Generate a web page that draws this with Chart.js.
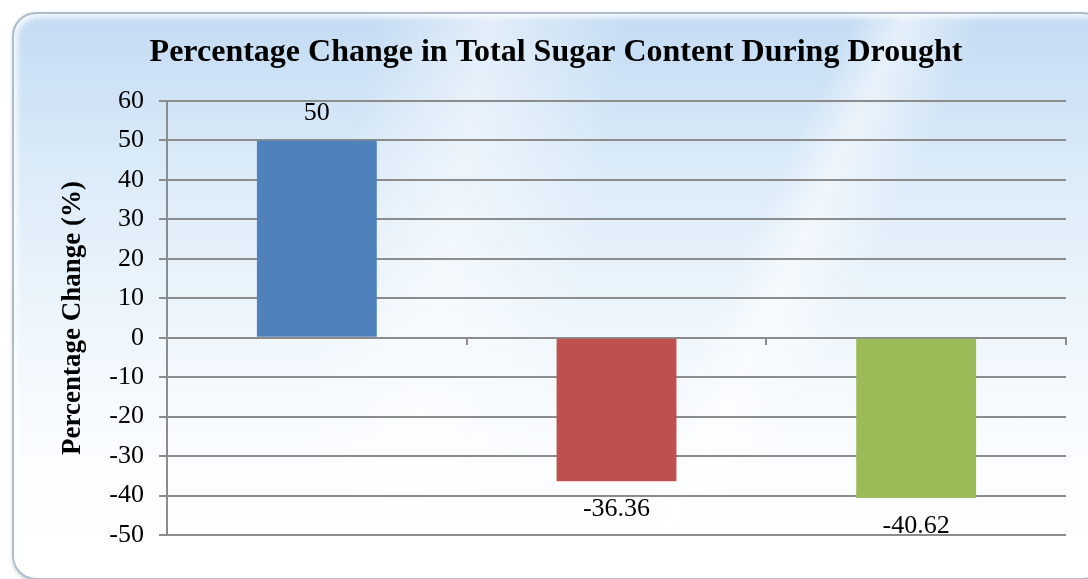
<!DOCTYPE html>
<html>
<head>
<meta charset="utf-8">
<script src="https://cdn.jsdelivr.net/npm/chart.js@4.4.0/dist/chart.umd.min.js"></script>
<style>
  html, body { margin: 0; padding: 0; background: #ffffff; }
  #wrap { position: relative; width: 1088px; height: 579px; overflow: hidden; }
  #panel {
    position: absolute; left: 12px; top: 12px; width: 1090px; height: 564px;
    border-radius: 24px;
    border: 2px solid #aebccc;
    box-shadow: inset 3px 3px 6px rgba(255,255,255,0.9), 1px 2px 4px rgba(120,140,160,0.5);
    background:
      linear-gradient(115deg, rgba(255,255,255,0) 62%, rgba(255,255,255,0.55) 66%, rgba(255,255,255,0) 72%),
      linear-gradient(100deg, rgba(255,255,255,0) 30%, rgba(255,255,255,0.5) 40%, rgba(255,255,255,0) 52%),
      linear-gradient(180deg, #c3dbf3 0%, #d9eaf8 25%, #eef6fc 55%, #fbfdff 80%, #ffffff 100%);
  }
  canvas { position: absolute; left: 0; top: 0; }
</style>
</head>
<body>
<div id="wrap">
  <div id="panel"></div>
  <canvas id="myChart" width="1088" height="579"></canvas>
</div>
<script>
const categories = ["A", "B", "C"];
const changeValues = [50, -36.36, -40.62];
const valueLabels = ["50", "-36.36", "-40.62"];
const barColors = ["#4f81bd", "#c0504d", "#9bbb59"];
const yTicks = [60, 50, 40, 30, 20, 10, 0, -10, -20, -30, -40, -50];

const gridGray = "#8c8c8c";

// labels under / over each bar
const valueLabelPlugin = {
  id: "valueLabels",
  afterDatasetsDraw(chart) {
    const ctx = chart.ctx;
    const meta = chart.getDatasetMeta(0);
    ctx.save();
    ctx.font = "26px 'Liberation Serif'";
    ctx.fillStyle = "#000000";
    ctx.textAlign = "center";
    ctx.textBaseline = "middle";
    meta.data.forEach((bar, i) => {
      const v = changeValues[i];
      const y = v >= 0 ? bar.y - 27 : bar.y + 28;
      ctx.fillText(valueLabels[i], bar.x, y);
    });
    ctx.restore();
  }
};

Chart.defaults.font.family = "'Liberation Serif'";
Chart.defaults.color = "#000000";

const ctx = document.getElementById("myChart");
new Chart(ctx, {
  type: "bar",
  data: {
    labels: categories,
    datasets: [
      {
        data: changeValues,
        backgroundColor: barColors,
        borderWidth: 0,
        categoryPercentage: 1,
        barPercentage: 0.4,
      },
    ],
  },
  options: {
    responsive: false,
    animation: false,
    layout: { padding: { left: 46, right: 22, top: 0, bottom: 44 } },
    plugins: {
      legend: { display: false },
      tooltip: { enabled: false },
      title: {
        display: true,
        text: "Percentage Change in Total Sugar Content During Drought",
        font: { size: 32, weight: "bold", family: "'Liberation Serif'" },
        color: "#000000",
        padding: { top: 34, bottom: 28.6 },
      },
    },
    scales: {
      x: {
        position: { y: 0 },
        ticks: { display: false },
        grid: {
          offset: true,
          drawOnChartArea: false,
          drawTicks: true,
          tickLength: 6,
          color: gridGray,
          lineWidth: 2,
        },
        border: { color: gridGray, width: 2 },
      },
      y: {
        min: -50,
        max: 60,
        afterFit(scale) { scale.width = 121; },
        afterBuildTicks(scale) { scale.ticks = yTicks.map(v => ({ value: v })); },
        ticks: {
          padding: 15,
          font: { size: 26 },
          color: "#000000",
        },
        grid: { color: gridGray, lineWidth: 2, tickLength: 8 },
        border: { color: gridGray, width: 2 },
        title: {
          display: true,
          text: "Percentage Change (%)",
          font: { size: 27, weight: "bold" },
          color: "#000000",
          padding: { top: 11, bottom: 0 },
        },
      },
    },
  },
  plugins: [valueLabelPlugin],
});
</script>
</body>
</html>
